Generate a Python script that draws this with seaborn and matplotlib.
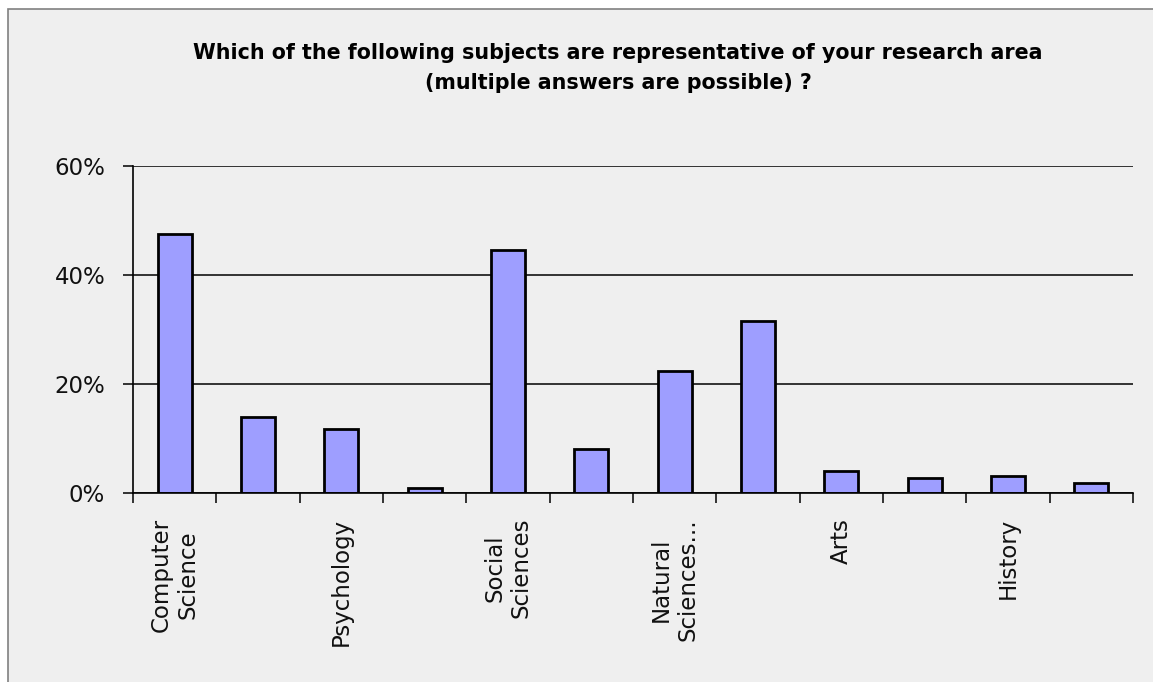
import matplotlib
matplotlib.use("Agg")
import matplotlib.pyplot as plt
import seaborn as sns
import pandas as pd
from matplotlib.patches import Rectangle
from matplotlib.ticker import FuncFormatter, FixedLocator

# ---- data ----
categories = ["Computer Science", "(unlabelled 2)", "Psychology", "(unlabelled 4)",
              "Social Sciences", "(unlabelled 6)", "Natural Sciences...", "(unlabelled 8)",
              "Arts", "(unlabelled 10)", "History", "(unlabelled 12)"]
values = [47.6, 14.0, 11.7, 1.0, 44.6, 8.1, 22.4, 31.6, 4.1, 2.7, 3.2, 1.8]
tick_labels = ["Computer\nScience", "", "Psychology", "", "Social\nSciences", "",
               "Natural\nSciences...", "", "Arts", "", "History", ""]
y_ticks = [0, 20, 40, 60]
title = "Which of the following subjects are representative of your research area\n(multiple answers are possible) ?"

sns.set_theme(style="white")
plt.rcParams['font.family'] = ['DejaVu Sans']

W, H = 1153, 682
fig = plt.figure(figsize=(W / 100, H / 100), dpi=100, facecolor="white")

# chart area background with frame (left and top edges visible)
bg = Rectangle((8 / W, -0.05), 1.1, 1.05 - 9 / H, transform=fig.transFigure,
               facecolor="#EFEFEF", edgecolor="#808080", linewidth=1.2, zorder=-10,
               clip_on=False)
fig.patches.append(bg)

ax = fig.add_axes([133 / W, 1 - 493 / H, 1000 / W, (493 - 166) / H])
ax.set_facecolor("none")
ax.set_zorder(2)

df = pd.DataFrame({"subject": categories, "share": values})
sns.barplot(data=df, x="subject", y="share", order=categories, color="#9E9EFF",
            saturation=1, edgecolor="black", linewidth=2, width=0.41, ax=ax, zorder=3)

ax.set_xlim(-0.5, len(categories) - 0.5)
ax.set_ylim(0, 60)
ax.set_xlabel("")
ax.set_ylabel("")

# gridlines
ax.yaxis.set_major_locator(FixedLocator(y_ticks))
ax.grid(axis="y", color="black", linewidth=1.1, zorder=1)
ax.grid(axis="x", visible=False)
ax.set_axisbelow(True)
ax.yaxis.set_major_formatter(FuncFormatter(lambda v, p: f"{v:.0f}%"))

for s in ["top", "right"]:
    ax.spines[s].set_visible(False)
for s in ["left", "bottom"]:
    ax.spines[s].set_color("black")
    ax.spines[s].set_linewidth(1.2)
    ax.spines[s].set_zorder(4)

ax.tick_params(axis="y", which="major", direction="out", length=7, width=1.1,
               color="black", pad=13, labelsize=16.5, labelcolor="#111111", left=True)

# x ticks: labels at centers, tick marks at boundaries
ax.set_xticks(range(len(categories)))
ax.set_xticklabels(tick_labels, rotation=90, va="top", ha="center",
                   multialignment="center", fontsize=16.5, color="#111111")
ax.tick_params(axis="x", which="major", length=0, pad=18)
ax.set_xticks([i - 0.5 for i in range(len(categories) + 1)], minor=True)
ax.tick_params(axis="x", which="minor", direction="out", length=7, width=1.1,
               color="black", bottom=True)

fig.text(618 / W, 1 - 68 / H, title, ha="center", va="center", fontsize=14.9,
         fontweight="bold", color="black", linespacing=1.6)

fig.savefig("out.png", dpi=100, facecolor=fig.get_facecolor())
